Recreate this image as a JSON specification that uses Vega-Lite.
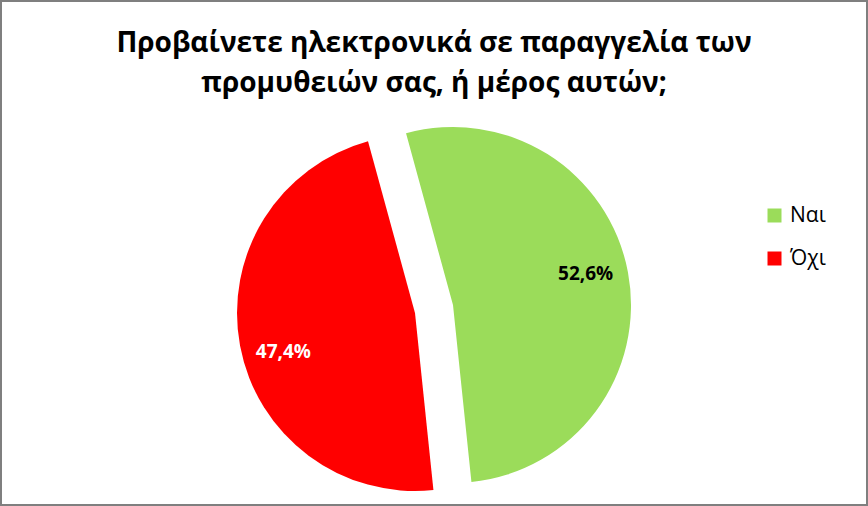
{
  "$schema": "https://vega.github.io/schema/vega-lite/v6.json",
  "width": 868,
  "height": 506,
  "padding": 0,
  "autosize": {"type": "none"},
  "background": "white",
  "config": {"view": {"stroke": "#7f7f7f", "strokeWidth": 4}},
  "title": {
    "text": ["Προβαίνετε ηλεκτρονικά σε παραγγελία των", "προμυθειών σας, ή μέρος αυτών;"],
    "font": "Open Sans",
    "fontSize": 28,
    "fontWeight": "bold",
    "color": "black",
    "lineHeight": 40,
    "anchor": "middle",
    "offset": -98
  },
  "data": {
    "values": [
      {"answer": "Ναι", "percent": 52.6, "label": "52,6%"},
      {"answer": "Όχι", "percent": 47.4, "label": "47,4%"}
    ]
  },
  "encoding": {
    "theta": {"field": "percent", "type": "quantitative", "stack": true, "scale": {"range": [-0.267, 6.016]}},
    "order": {"field": "answer", "sort": "descending"},
    "x": {"field": "answer", "type": "nominal", "scale": {"type": "point", "domain": ["Όχι", "Ναι"], "range": [415, 453], "padding": 0}, "axis": null},
    "y": {"field": "answer", "type": "nominal", "scale": {"type": "point", "domain": ["Ναι", "Όχι"], "range": [305, 313], "padding": 0}, "axis": null}
  },
  "layer": [
    {
      "mark": {"type": "arc", "outerRadius": 178},
      "encoding": {
        "color": {
          "field": "answer",
          "type": "nominal",
          "scale": {"domain": ["Ναι", "Όχι"], "range": ["#9bdc5a", "#ff0000"]},
          "legend": {
            "orient": "none",
            "legendX": 764,
            "legendY": 205,
            "title": null,
            "symbolType": "square",
            "symbolSize": 196,
            "symbolStrokeWidth": 0,
            "labelFont": "Open Sans",
            "labelFontSize": 21,
            "labelColor": "black",
            "rowPadding": 21,
            "labelOffset": 5,
            "padding": 0
          }
        }
      }
    },
    {
      "mark": {"type": "text", "radius": 137, "font": "Open Sans", "fontSize": 19, "fontWeight": "bold", "color": "black", "dx": -2, "dy": -6},
      "encoding": {"text": {"condition": {"test": "datum.answer === 'Ναι'", "field": "label"}, "value": ""}}
    },
    {
      "mark": {"type": "text", "radius": 137, "font": "Open Sans", "fontSize": 19, "fontWeight": "bold", "color": "white", "dx": 3, "dy": 14},
      "encoding": {"text": {"condition": {"test": "datum.answer === 'Όχι'", "field": "label"}, "value": ""}}
    }
  ]
}
